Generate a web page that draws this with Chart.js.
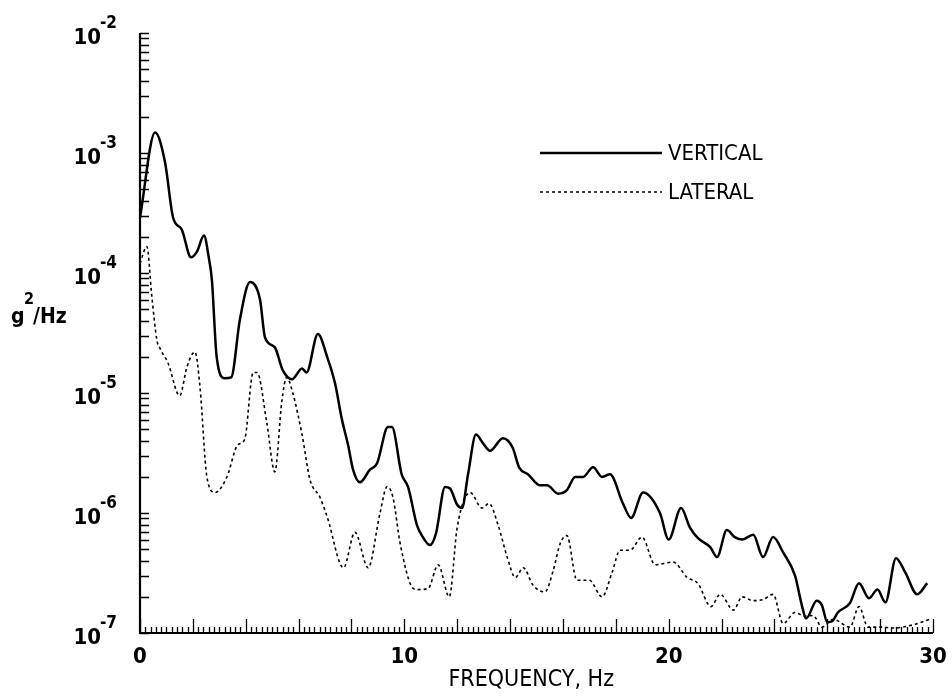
<!DOCTYPE html>
<html>
<head>
<meta charset="utf-8">
<title>Acceleration PSD</title>
<script src="https://cdn.jsdelivr.net/npm/chart.js@4.4.1/dist/chart.umd.min.js"></script>
<style>
  html, body { margin: 0; padding: 0; background: #fff; }
  #psd-chart { display: block; }
</style>
</head>
<body>
<canvas id="psd-chart" width="952" height="697"></canvas>
<script>
'use strict';

// ******** DATA **********************************
let vertFreq = [0, 0.57, 0.95, 1.25, 1.58, 1.93, 2.15, 2.42, 2.6, 2.72, 2.9, 3.2, 3.45, 3.78, 4.16, 4.54, 4.73, 5.1, 5.4, 5.75,
  6.13, 6.3, 6.73, 7.08, 7.38, 7.64, 7.87, 8.06, 8.32, 8.7, 8.97, 9.38, 9.53, 9.9, 10.14, 10.48, 10.7, 10.97, 11.2, 11.54,
  11.73, 12.0, 12.18, 12.41, 12.71, 12.98, 13.24, 13.73, 14.1, 14.34, 14.68, 15.13, 15.4, 15.82, 16.15, 16.46, 16.76, 17.14, 17.48, 17.78,
  18.27, 18.58, 19.03, 19.67, 20.0, 20.47, 20.8, 21.1, 21.57, 21.83, 22.2, 22.5, 22.78, 23.2, 23.57, 23.95, 24.33, 24.78, 25.05, 25.2,
  25.6, 25.8, 26.0, 26.2, 26.4, 26.86, 27.2, 27.58, 27.9, 28.2, 28.6, 28.95, 29.4, 29.78];
let vertPsd = [2.9e-4, 1.48e-3, 8.3e-4, 2.9e-4, 2.3e-4, 1.35e-4, 1.5e-4, 2.05e-4, 1.35e-4, 8.7e-5, 2.0e-5, 1.33e-5, 1.35e-5, 4.1e-5, 8.4e-5, 6.0e-5, 2.9e-5, 2.4e-5, 1.55e-5, 1.3e-5,
  1.6e-5, 1.48e-5, 3.1e-5, 2.0e-5, 1.2e-5, 6.0e-6, 3.7e-6, 2.3e-6, 1.8e-6, 2.3e-6, 2.6e-6, 5.2e-6, 5.2e-6, 2.1e-6, 1.65e-6, 7.9e-7, 6.3e-7, 5.4e-7, 6.8e-7, 1.65e-6,
  1.6e-6, 1.17e-6, 1.1e-6, 2.1e-6, 4.5e-6, 3.8e-6, 3.3e-6, 4.2e-6, 3.5e-6, 2.4e-6, 2.1e-6, 1.7e-6, 1.7e-6, 1.45e-6, 1.55e-6, 2.0e-6, 2.0e-6, 2.4e-6, 2.0e-6, 2.1e-6,
  1.2e-6, 9.1e-7, 1.48e-6, 1.0e-6, 6.0e-7, 1.1e-6, 7.6e-7, 6.2e-7, 5.2e-7, 4.3e-7, 7.2e-7, 6.3e-7, 6.0e-7, 6.6e-7, 4.3e-7, 6.3e-7, 4.7e-7, 3.0e-7, 1.66e-7, 1.32e-7,
  1.86e-7, 1.7e-7, 1.23e-7, 1.26e-7, 1.48e-7, 1.78e-7, 2.6e-7, 1.95e-7, 2.3e-7, 1.8e-7, 4.2e-7, 3.2e-7, 2.1e-7, 2.6e-7];

let latFreq = [0, 0.26, 0.45, 0.64, 0.76, 1.06, 1.5, 1.78, 2.08, 2.27, 2.53, 2.84, 3.29, 3.7, 3.96, 4.28, 4.43, 4.8, 5.1, 5.37,
  5.55, 5.78, 6.13, 6.43, 6.81, 7.08, 7.7, 8.13, 8.63, 9.08, 9.35, 9.57, 9.84, 10.3, 10.48, 10.9, 11.28, 11.7, 12.0, 12.49,
  12.94, 13.2, 13.55, 13.89, 14.2, 14.5, 14.87, 15.32, 15.63, 15.9, 16.15, 16.53, 17.0, 17.48, 17.86, 18.16, 18.54, 18.99, 19.49, 20.17,
  20.7, 21.1, 21.6, 21.95, 22.45, 22.78, 23.2, 23.57, 23.95, 24.33, 24.78, 25.16, 25.46, 25.8, 26.22, 26.86, 27.2, 27.54, 28.0, 28.5,
  29.25, 29.96];
let latPsd = [1.2e-4, 1.66e-4, 6.3e-5, 2.75e-5, 2.35e-5, 1.78e-5, 9.5e-6, 1.66e-5, 2.2e-5, 1.12e-5, 2.0e-6, 1.48e-6, 2.0e-6, 3.7e-6, 4.1e-6, 1.48e-5, 1.48e-5, 5.6e-6, 2.2e-6, 8.7e-6,
  1.35e-5, 1.0e-5, 4.5e-6, 1.9e-6, 1.35e-6, 9.3e-7, 3.5e-7, 6.9e-7, 3.5e-7, 1.0e-6, 1.66e-6, 1.35e-6, 5.6e-7, 2.4e-7, 2.3e-7, 2.35e-7, 3.7e-7, 2.0e-7, 7.6e-7, 1.48e-6,
  1.1e-6, 1.2e-6, 7.9e-7, 4.3e-7, 2.9e-7, 3.5e-7, 2.5e-7, 2.2e-7, 3.3e-7, 5.6e-7, 6.5e-7, 2.75e-7, 2.75e-7, 2.0e-7, 3.2e-7, 4.9e-7, 4.9e-7, 6.3e-7, 3.7e-7, 3.9e-7,
  2.9e-7, 2.6e-7, 1.66e-7, 2.1e-7, 1.55e-7, 2.0e-7, 1.86e-7, 1.9e-7, 2.1e-7, 1.2e-7, 1.48e-7, 1.38e-7, 1.4e-7, 1.12e-7, 1.3e-7, 1.12e-7, 1.66e-7, 1.12e-7, 1.12e-7, 1.1e-7,
  1.17e-7, 1.32e-7];

let seriesNames = ['VERTICAL', 'LATERAL'];
let xTickLabels = [0, 10, 20, 30];
let yExponents = [-2, -3, -4, -5, -6, -7];

// ********* HELPERS ****************
const FONT = '"DejaVu Sans Condensed", "DejaVu Sans", sans-serif';

function toPoints(freqs, vals) {
  let pts = [];
  for (let i = 0; i < freqs.length; i++) {
    pts.push({ x: freqs[i], y: vals[i] });
  }
  return pts;
}

// draws the old-style axes: inward ticks, 10^n labels, legend
const paperAxes = {
  id: 'paperAxes',
  afterDraw(chart) {
    let ctx = chart.ctx;
    let xs = chart.scales.x;
    let ys = chart.scales.y;
    let area = chart.chartArea;

    ctx.save();
    ctx.strokeStyle = '#000';
    ctx.fillStyle = '#000';

    // axis lines
    ctx.lineWidth = 2.2;
    ctx.beginPath();
    ctx.moveTo(area.left, area.top);
    ctx.lineTo(area.left, area.bottom);
    ctx.lineTo(area.right, area.bottom);
    ctx.stroke();

    // y log ticks, pointing into the plot
    ctx.lineWidth = 1.6;
    ctx.beginPath();
    for (let e = -7; e < -2; e++) {
      for (let m = 1; m <= 9; m++) {
        let py = Math.round(ys.getPixelForValue(m * Math.pow(10, e))) + 0.5;
        ctx.moveTo(area.left, py);
        ctx.lineTo(area.left + 9, py);
      }
    }
    let topY = Math.round(ys.getPixelForValue(1e-2)) + 0.5;
    ctx.moveTo(area.left, topY);
    ctx.lineTo(area.left + 9, topY);
    ctx.stroke();

    // x ticks every 0.2 Hz, longer every 2 Hz
    ctx.lineWidth = 1.3;
    ctx.beginPath();
    for (let i = 0; i <= 150; i++) {
      let px = Math.round(xs.getPixelForValue(i * 0.2)) + 0.5;
      let len = (i % 10 === 0) ? 14 : 6;
      ctx.moveTo(px, area.bottom);
      ctx.lineTo(px, area.bottom - len);
    }
    ctx.stroke();

    // x tick labels
    ctx.font = 'bold 22px ' + FONT;
    ctx.textAlign = 'center';
    ctx.textBaseline = 'middle';
    xTickLabels.forEach(function (v) {
      ctx.fillText(String(v), xs.getPixelForValue(v), area.bottom + 24);
    });

    // x title
    ctx.font = '23px ' + FONT;
    ctx.fillText('FREQUENCY, Hz', xs.getPixelForValue(14.8), area.bottom + 47);

    // y decade labels 10^n
    yExponents.forEach(function (e) {
      let py = ys.getPixelForValue(Math.pow(10, e));
      ctx.font = 'bold 22px ' + FONT;
      ctx.textAlign = 'right';
      ctx.textBaseline = 'middle';
      ctx.fillText('10', 101, py + 5);
      ctx.font = 'bold 17px ' + FONT;
      ctx.textAlign = 'left';
      ctx.fillText(String(e), 100, py - 9);
    });

    // y title g^2/Hz
    ctx.textAlign = 'left';
    ctx.textBaseline = 'alphabetic';
    ctx.font = 'bold 21px ' + FONT;
    ctx.fillText('g', 11, 323);
    ctx.font = 'bold 16px ' + FONT;
    ctx.fillText('2', 24, 304);
    ctx.font = 'bold 21px ' + FONT;
    ctx.fillText('/Hz', 33, 323);

    // legend
    let legendRows = [153, 192];
    chart.data.datasets.forEach(function (ds, i) {
      let ly = legendRows[i];
      ctx.lineWidth = ds.borderWidth;
      ctx.setLineDash(ds.borderDash || []);
      ctx.beginPath();
      ctx.moveTo(540, ly);
      ctx.lineTo(662, ly);
      ctx.stroke();
      ctx.setLineDash([]);
      ctx.font = '22px ' + FONT;
      ctx.textBaseline = 'middle';
      ctx.fillText(seriesNames[i], 668, ly + 1);
    });

    ctx.restore();
  }
};

// ********* CHART *******************
let canvasElem = document.getElementById('psd-chart');

let chartConfig = {
  type: 'line',
  data: {
    datasets: [{
      label: seriesNames[0],
      data: toPoints(vertFreq, vertPsd),
      borderColor: '#000',
      borderWidth: 2.5,
      pointRadius: 0,
      cubicInterpolationMode: 'monotone'
    },
    {
      label: seriesNames[1],
      data: toPoints(latFreq, latPsd),
      borderColor: '#000',
      borderWidth: 1.6,
      borderDash: [3, 3],
      pointRadius: 0,
      cubicInterpolationMode: 'monotone'
    }]
  },
  options: {
    responsive: false,
    animation: false,
    layout: {
      padding: { left: 140, right: 19, top: 33, bottom: 64 }
    },
    scales: {
      x: { type: 'linear', min: 0, max: 30, display: false },
      y: { type: 'logarithmic', min: 1e-7, max: 1e-2, display: false }
    },
    plugins: {
      legend: { display: false },
      tooltip: { enabled: false }
    }
  },
  plugins: [paperAxes]
};

new Chart(canvasElem, chartConfig);
</script>
</body>
</html>
